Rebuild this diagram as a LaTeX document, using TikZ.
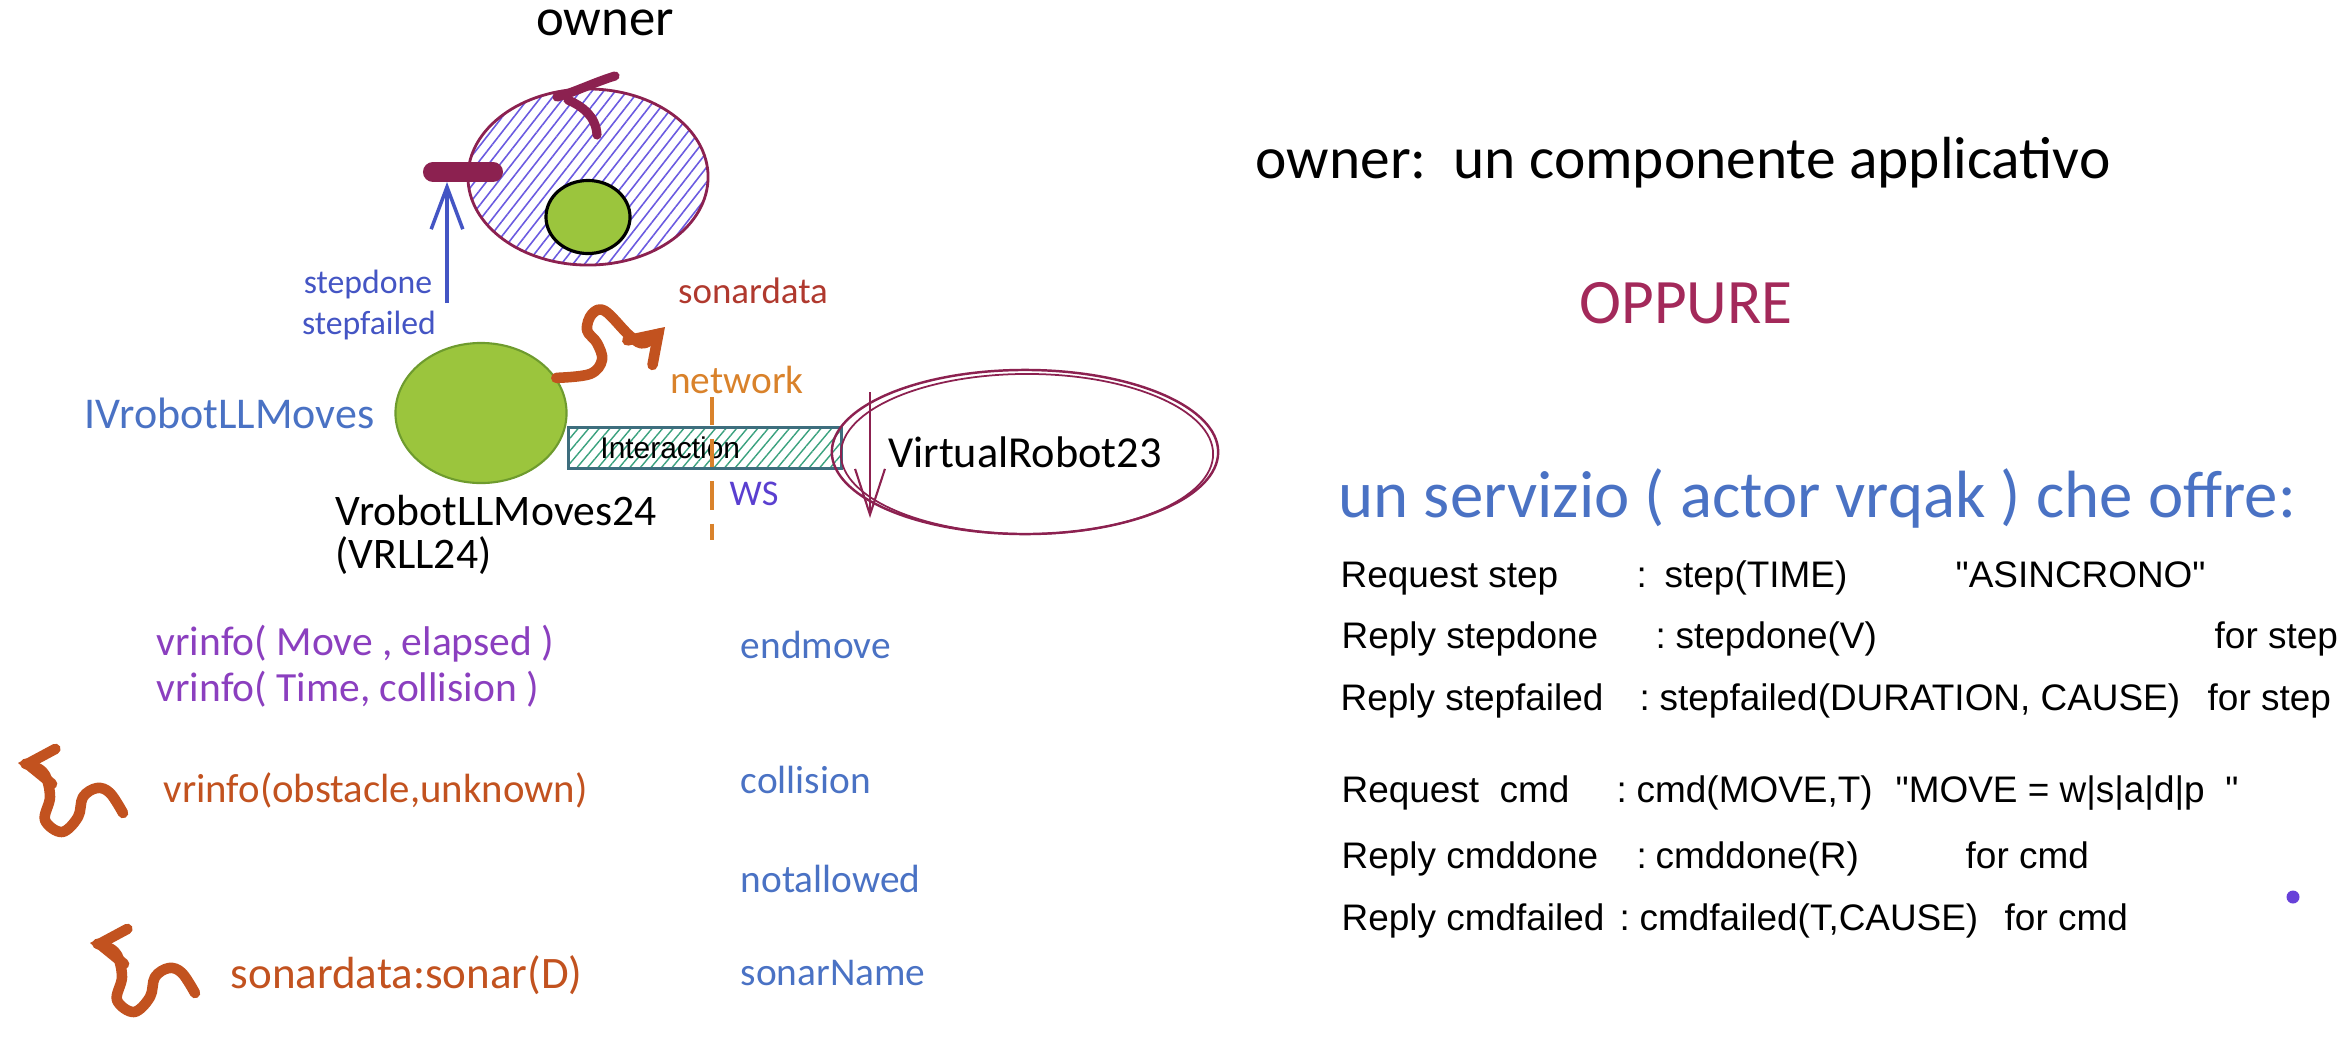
\documentclass[tikz,border=0pt]{standalone}
\usepackage{fontspec}
\setmainfont{Liberation Sans}[Ligatures=TeXOff]
\newfontfamily\handfont{Carlito}
\usepackage{tikz}
\usetikzlibrary{arrows.meta,shapes.geometric,patterns.meta}
\definecolor{ownred}{HTML}{8C2150}
\definecolor{hatchblue}{HTML}{6A5AE0}
\definecolor{leafgreen}{HTML}{9BC53D}
\definecolor{leafedge}{HTML}{6E9B2E}
\definecolor{evblue}{HTML}{4455C4}
\definecolor{msgblue}{HTML}{4A72C4}
\definecolor{rust}{HTML}{C2521F}
\definecolor{sonarred}{HTML}{B0392E}
\definecolor{infoviolet}{HTML}{8B3FBF}
\definecolor{netorange}{HTML}{D9822B}
\definecolor{wsviolet}{HTML}{5A3FD0}
\definecolor{oppcol}{HTML}{A3295A}
\definecolor{wirecol}{HTML}{3E6E7E}
\definecolor{wirehatch}{HTML}{3AA17E}
\definecolor{dotcol}{HTML}{6741D9}
\newcommand{\hfs}[1]{\handfont\fontsize{#1}{#1}\selectfont}
\tikzset{
  wiggle/.pic={
    \draw[squig] plot[smooth,tension=0.6] coordinates {(0,0) (-13,-20) (-26,-25) (-40,-16) (-45,4) (-61,19) (-78,7) (-73,-16) (-78,-38) (-90,-47) (-105,-50)};
  }
}

\begin{document}
\begin{tikzpicture}[x=0.01cm,y=-0.01cm,
    hand/.style={font={\hfs{#1}}},
    lbl/.style={inner sep=0pt,anchor=base},
    lblw/.style={inner sep=0pt,anchor=base west},
    ownerbody/.style={ellipse,draw=ownred,line width=0.8pt,inner sep=0pt,
                      pattern={Lines[angle=52,distance=2.6pt,line width=0.45pt]},pattern color=hatchblue},
    core/.style={ellipse,draw=black,line width=0.9pt,fill=leafgreen,inner sep=0pt},
    leaf/.style={ellipse,draw=leafedge,line width=0.6pt,fill=leafgreen,inner sep=0pt},
    wirebox/.style={rectangle,draw=wirecol,line width=1pt,inner ysep=0pt,inner xsep=0.32cm,
                    pattern={Lines[angle=50,distance=2.3pt,line width=0.4pt]},pattern color=wirehatch,
                    text width=2.09cm,align=left,font=\fontsize{8.5}{9}\selectfont},
    robotbody/.style={ellipse,draw=ownred,line width=0.7pt,inner sep=0pt},
    hookline/.style={ownred,line width=2.6pt,line cap=round},
    portbar/.style={ownred,line width=5.7pt,line cap=round},
    evarrow/.style={evblue,line width=1pt,-{Straight Barb[length=12pt,width=9pt]}},
    squig/.style={rust,line width=3pt,line cap=round,line join=round,
                  -{Straight Barb[length=7.5pt,width=10pt,line cap=round]}},
    netline/.style={netorange,line width=1.1pt,dash pattern=on 8pt off 4pt},
    msg/.style={lblw,hand=11.2,text=msgblue},
    info/.style={lblw,hand=11.8,text=infoviolet},
    rowtxt/.style={lblw,font=\fontsize{10.5}{12}\selectfont}
]
\useasboundingbox (0,0) rectangle (2342,1042);

\node[lbl,hand=15] (ownertitle) at (605,35) {owner};
\node[ownerbody,minimum width=2.40cm,minimum height=1.76cm] (owner) at (588,177) {};
\node[core,minimum width=0.84cm,minimum height=0.73cm] (ownercore) at (588,217) {};
\draw[hookline] (615,76) .. controls (595,82) and (575,92) .. (557,97);
\draw[hookline] (568,100) .. controls (582,106) and (596,116) .. (597,135);
\coordinate (port) at (463,172);
\draw[portbar] ([xshift=-0.30cm]port) -- ([xshift=0.30cm]port);
\coordinate (evsrc) at (447,303);
\coordinate (evdst) at (447,182);
\draw[evarrow] (evsrc) -- (evdst);
\node[lbl,hand=9.6,text=evblue] (stepdone) at (368,293) {stepdone};
\node[lbl,hand=9.6,text=evblue] (stepfailed) at (369,334) {stepfailed};

\node[leaf,minimum width=1.71cm,minimum height=1.40cm] (vrll) at (481,413) {};
\node[lblw,hand=12.5,text=msgblue] (ivrll) at (84,428) {IVrobotLLMoves};
\node[lblw,hand=12.4] (vrllname) at (335,525) {VrobotLLMoves24};
\node[lblw,hand=12.4] (vrllabbr) at (335,568) {(VRLL24)};
\node[lbl,hand=10.5,text=sonarred] (sonar) at (753,303) {sonardata};
\draw[squig] plot[smooth,tension=0.6] coordinates {(vrll.25) (590,374) (602,360) (597,343) (587,330) (592,314) (605,311) (630,336) (645,343) (665,327)};

\node[wirebox,minimum height=0.41cm] (inter) at (705,448) {Interaction};
\node[lbl,hand=11.2,text=netorange] (net) at (737,393) {network};
\coordinate (nettop) at (712,397);
\coordinate (netbot) at (712,540);
\draw[netline] (nettop) -- (netbot);
\node[lbl,hand=10.3,text=wsviolet] (ws) at (754,505) {WS};

\node[robotbody,minimum width=3.72cm,minimum height=1.64cm,hand=12.6] (vr) at (1025,452) {VirtualRobot23};
\draw[ownred,line width=0.5pt] ([xshift=0.02cm,yshift=-0.02cm]vr.center) ellipse [x radius=1.86cm,y radius=0.80cm];
\coordinate (vrtop) at (870,392);
\coordinate (vrbot) at (870,518);
\draw[ownred,line width=0.6pt,-{Straight Barb[length=13pt,width=8.5pt]}] (vrtop) -- (vrbot);

\node[info] (infomove) at (156,655) {vrinfo( Move , elapsed )};
\node[info] (infotime) at (156,701) {vrinfo( Time, collision )};
\node[lblw,hand=11.6,text=rust] (infoobst) at (163,802) {vrinfo(obstacle,unknown)};
\node[lblw,hand=12.8,text=rust] (sonarmsg) at (230,988) {sonardata:sonar(D)};
\pic at (123,813) {wiggle};
\pic at (195,993) {wiggle};
\node[msg] (endmove) at (740,658) {endmove};
\node[msg] (collision) at (740,793) {collision};
\node[msg] (notallowed) at (740,892) {notallowed};
\node[msg] (sonarname) at (740,985) {sonarName};

\node[lblw,hand=16.9] (ownerdef) at (1255,178) {owner:\ \ un componente applicativo};
\node[lbl,hand=18,text=oppcol] (oppure) at (1686,323) {OPPURE};
\node[lblw,hand=19,text=msgblue] (service) at (1338,517) {un servizio ( actor vrqak ) che offre:};

\foreach \px/\py/\txt [count=\i] in {
    1340/587/{Request step}, 1636/587/{:}, 1664/587/{step(TIME)}, 1955/587/{"ASINCRONO"},
    1341/648/{Reply stepdone}, 1655/648/{:}, 1675/648/{stepdone(V)}, 2214/648/{for step},
    1340/710/{Reply stepfailed}, 1639/710/{:}, 1659/710/{stepfailed(DURATION, CAUSE)}, 2207/710/{for step},
    1341/802/{Request\ \ cmd}, 1616/802/{:}, 1636/802/{cmd(MOVE,T)}, 1895/802/{"MOVE = w|s|a|d|p\ \ "},
    1341/868/{Reply cmddone}, 1636/868/{:}, 1655/868/{cmddone(R)}, 1965/868/{for cmd},
    1341/930/{Reply cmdfailed}, 1619/930/{:}, 1639/930/{cmdfailed(T,CAUSE)}, 2004/930/{for cmd}}
  \node[rowtxt] (cell\i) at (\px,\py) {\txt};

\fill[dotcol] (2293,897) circle [radius=0.065cm];
\end{tikzpicture}
\end{document}
